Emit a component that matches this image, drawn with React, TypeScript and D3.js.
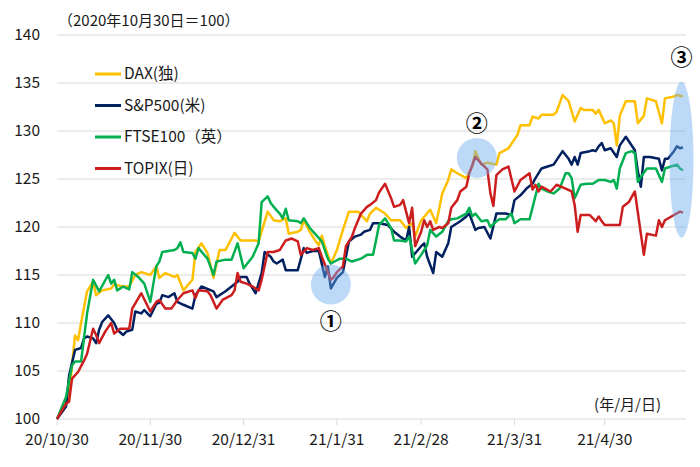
import React from 'react';
import * as d3 from 'd3';

// days counted from 2020/10/30 (index = 100)
const daxDays = [0, 2, 4, 6, 7, 8, 10, 12, 13, 15, 18, 19, 22, 24, 26, 28, 31, 33, 34, 36, 39, 40, 42, 45, 46, 48, 50, 52, 54, 56, 59, 61, 66, 67, 70, 72, 74, 76, 77, 80, 81, 82, 84, 86, 87, 88, 89, 91, 93, 95, 97, 100, 103, 104, 106, 109, 111, 114, 116, 118, 119, 121, 124, 126, 128, 130, 131, 133, 136, 138, 139, 141, 143, 146, 147, 150, 153, 154, 157, 158, 160, 161, 165, 166, 168, 170, 172, 174, 175, 178, 179, 180, 182, 184, 185, 186, 187, 189, 192, 193, 195, 196, 199, 201, 202, 205, 206, 208];
const daxValues = [100, 101.2, 102.5, 108.7, 108.2, 110, 113.3, 114.3, 112.9, 113.4, 113.6, 114, 113.8, 113.8, 115, 115.3, 115, 115.9, 114.7, 115.2, 114.8, 115, 113.4, 114.5, 117.4, 118.3, 117.3, 114.7, 117.6, 117.6, 119.4, 118.6, 118.6, 118.5, 121.6, 120.7, 120.6, 120.9, 119.3, 119.5, 119.7, 120.7, 119.5, 118.5, 118.1, 119.1, 118, 116.2, 117.6, 119.7, 121.6, 121.6, 120.6, 121.4, 122, 121.4, 120.7, 120.7, 119.9, 120.4, 119, 120.7, 121.8, 120.4, 123.5, 124.9, 126, 125.6, 125.1, 126.3, 127.9, 126.5, 126.7, 126.5, 127.7, 128.2, 129.6, 130.6, 130.6, 131.5, 131.3, 131.7, 131.7, 132, 133.75, 133.1, 131, 132.4, 132.2, 132.2, 131.8, 132.2, 130.8, 131.1, 130.8, 128.5, 131.6, 133.1, 133.1, 130.8, 131.6, 133.4, 133.1, 130.8, 133.4, 133.6, 133.75, 133.6];

const spDays = [0, 3, 4, 6, 8, 9, 10, 12, 13, 14, 15, 17, 19, 20, 22, 23, 25, 26, 28, 29, 31, 33, 34, 35, 37, 39, 40, 42, 45, 46, 48, 52, 53, 56, 58, 60, 61, 63, 64, 66, 68, 69, 71, 72, 73, 75, 76, 80, 82, 83, 85, 87, 89, 90, 91, 93, 95, 97, 99, 101, 102, 104, 105, 107, 110, 112, 114, 116, 117, 118, 121, 122, 123, 125, 126, 128, 130, 131, 134, 136, 137, 139, 140, 142, 144, 146, 149, 151, 152, 154, 156, 158, 159, 161, 163, 165, 168, 169, 170, 171, 172, 173, 174, 177, 178, 179, 180, 181, 182, 184, 186, 187, 189, 192, 193, 194, 195, 197, 200, 201, 202, 203, 205, 206, 207, 208];
const spValues = [100, 101.3, 104.5, 107.2, 107.4, 108.4, 108.6, 108.4, 107.9, 109.3, 110.1, 110.8, 110, 109.3, 108.75, 109.1, 109.3, 111.2, 111, 111.35, 110.7, 112, 112.1, 112.9, 112.7, 113.1, 112.2, 111.9, 111.5, 112.9, 113.8, 113.3, 112.7, 113.3, 113.8, 114.3, 114.8, 114.8, 114.1, 113.1, 115.2, 117.4, 116.9, 116.4, 116.2, 116.6, 115.5, 115.5, 117.8, 117.3, 117.5, 117.5, 114.8, 115.9, 113.6, 114.7, 115.3, 118.5, 119, 119.2, 119.5, 119.7, 120.4, 120.4, 120.2, 119.5, 119, 118.6, 120, 116.9, 118, 118.3, 116.9, 115.2, 117.4, 116.9, 118.3, 120, 120.6, 121.1, 121.4, 119.7, 119.9, 120, 118.8, 121.4, 121.4, 121.25, 122.8, 123.3, 124, 124.5, 125.1, 126.1, 126.3, 126.5, 127.9, 127.5, 127.1, 126.5, 127.3, 126.5, 127.7, 127.9, 128, 127.9, 128.4, 128.75, 128, 128.2, 127.3, 128.5, 129.4, 128, 125.8, 124.2, 127.3, 127.3, 127.1, 125.9, 127.1, 127.1, 127.9, 128.4, 128.2, 128.3];

const ftseDays = [0, 3, 5, 6, 8, 10, 12, 14, 17, 18, 19, 20, 22, 24, 25, 27, 29, 31, 33, 34, 35, 39, 40, 41, 42, 45, 46, 47, 50, 52, 53, 56, 58, 60, 62, 65, 67, 68, 70, 71, 72, 74, 75, 76, 77, 80, 81, 82, 84, 86, 88, 90, 91, 94, 96, 98, 101, 103, 105, 106, 107, 109, 111, 112, 114, 116, 117, 119, 121, 123, 124, 126, 128, 130, 131, 133, 136, 137, 138, 139, 141, 143, 144, 146, 147, 149, 151, 152, 154, 157, 160, 161, 163, 165, 167, 169, 170, 171, 172, 174, 176, 178, 179, 180, 182, 184, 185, 186, 187, 189, 191, 192, 193, 194, 196, 199, 201, 202, 204, 206, 207, 208];
const ftseValues = [100, 102.3, 105.6, 106, 106, 111, 114.5, 113.3, 115, 114.1, 114.5, 113.4, 113.8, 113.5, 115.3, 114.8, 114.1, 112.2, 115.9, 116.4, 117.4, 117.6, 117.8, 118.4, 117.4, 117.3, 116.7, 117.8, 116.7, 115, 116.4, 116.6, 116.6, 118.3, 115.7, 116.9, 118.3, 122.6, 123.2, 122.5, 122.1, 121.4, 120.9, 121.9, 120.7, 120.6, 120.4, 120.9, 119.9, 119.2, 118.5, 116.7, 116.2, 116.7, 116.7, 116.4, 116.7, 117.1, 117.1, 118.6, 120.2, 120.9, 119.9, 118.6, 118.6, 118.5, 119, 116.2, 117.1, 118.1, 119.7, 119, 119.5, 120.6, 120.8, 120.9, 121.4, 122, 121.1, 121.4, 120.6, 120.7, 120, 120.6, 120.8, 120.8, 121.4, 120.4, 120.8, 120.8, 124.5, 124, 123.7, 123.5, 124, 125.6, 125.6, 125.1, 123, 124.4, 124.5, 124.5, 124.7, 124.9, 124.9, 124.7, 124.9, 124, 126.1, 127.7, 127.9, 127.7, 124.7, 125.2, 126.1, 126.1, 124.7, 126.1, 126.3, 126.5, 126.1, 125.9];

const topixDays = [0, 3, 4, 5, 7, 9, 10, 12, 13, 14, 16, 18, 19, 21, 24, 25, 28, 31, 33, 34, 36, 38, 40, 42, 45, 46, 47, 50, 51, 53, 55, 58, 59, 60, 61, 63, 65, 67, 68, 70, 72, 74, 76, 78, 80, 81, 83, 85, 87, 88, 91, 92, 93, 95, 96, 98, 99, 101, 103, 104, 106, 107, 109, 111, 112, 114, 115, 116, 117, 118, 119, 121, 122, 123, 124, 125, 127, 128, 130, 131, 133, 134, 136, 137, 139, 141, 143, 144, 145, 146, 148, 150, 152, 154, 157, 158, 159, 160, 161, 164, 166, 169, 171, 172, 173, 174, 177, 179, 180, 181, 182, 187, 188, 190, 192, 195, 196, 199, 200, 201, 202, 205, 207, 208];
const topixValues = [100, 101.6, 101.8, 104.2, 104.9, 106.1, 106.8, 109.4, 108.75, 107.9, 109.1, 110, 108.9, 109.4, 109.4, 111.5, 113.1, 111.2, 112.2, 112.4, 111.5, 111.5, 112.4, 113.1, 113.4, 112.6, 113.4, 113.3, 112.9, 111.5, 112.4, 112.9, 113.4, 115.2, 114.3, 114.1, 113.8, 113.4, 114.5, 117.4, 117.4, 117.6, 118.6, 118.8, 118.5, 117.1, 117.8, 117.6, 117.8, 116.9, 114.5, 114.8, 115.3, 115.9, 118, 119, 119.9, 121.4, 122.1, 122.3, 122.8, 123.6, 124.5, 123, 122.1, 122.3, 122.8, 121.6, 120.4, 122, 118, 119.5, 120.7, 120, 120.6, 119.7, 120, 119.9, 120.4, 122, 122.8, 123.7, 124.2, 125.6, 127.3, 126.6, 126, 123.5, 122.2, 125.4, 126, 126.3, 123.7, 124.9, 125.6, 123.9, 124.4, 123.7, 124.2, 123.7, 124.4, 124, 123.7, 122.3, 119.5, 121.25, 121.25, 120.6, 121.1, 120.6, 120.2, 120.2, 122.1, 122.6, 123.7, 117.1, 119.3, 119.1, 120.7, 120, 120.7, 121.25, 121.6, 121.5];

const seriesNames = ['DAX(独)', 'S&P500(米)', 'FTSE100（英）', 'TOPIX(日)'];
const seriesColors = ['#ffc000', '#002060', '#00b050', '#cc1e1e'];
const seriesDays = [daxDays, spDays, ftseDays, topixDays];
const seriesValues = [daxValues, spValues, ftseValues, topixValues];

const yTicks = [100, 105, 110, 115, 120, 125, 130, 135, 140];
const xTickDays = [0, 31, 62, 93, 121, 152, 182];
const xTickLabels = ['20/10/30', '20/11/30', '20/12/31', '21/1/31', '21/2/28', '21/3/31', '21/4/30'];

// annotation marks: [day, value]
const markers = [
  { label: '①', day: 91, value: 114, rx: 20, ry: 20, labelValue: 110.2 },
  { label: '②', day: 139.5, value: 127.2, rx: 20, ry: 20, labelValue: 130.8 },
  { label: '③', day: 207.5, value: 127, rx: 12, ry: 78, labelValue: 137.7 },
];

const base = Date.UTC(2020, 9, 30);
const toDate = (d: number) => new Date(base + d * 86400000);

const W = 700;
const H = 467;
const FONT = "'Noto Sans CJK JP', 'Noto Sans', sans-serif";

export default function App() {
  const x = d3.scaleUtc().domain([toDate(0), toDate(208)]).range([57, 683]);
  const y = d3.scaleLinear().domain([100, 140]).range([419, 35]);
  const plotRight = 686;

  const line = d3
    .line<[number, number]>()
    .x((d) => x(toDate(d[0])))
    .y((d) => y(d[1]));

  return (
    <svg
      width={W}
      height={H}
      style={{ position: 'absolute', left: 0, top: 0, background: '#fff' }}
      fontFamily={FONT}
    >
      {yTicks.map((t) => (
        <g key={t}>
          <line x1={57} x2={plotRight} y1={y(t)} y2={y(t)} stroke="#d9d9d9" strokeWidth={1} />
          <text x={40} y={y(t)} dy="0.35em" textAnchor="end" fontSize={15.5} fill="#1a1a1a">
            {t}
          </text>
        </g>
      ))}

      {xTickDays.map((d, i) => (
        <g key={d}>
          <line x1={x(toDate(d))} x2={x(toDate(d))} y1={419} y2={425} stroke="#d9d9d9" />
          <text x={x(toDate(d))} y={445} textAnchor="middle" fontSize={15.5} fill="#1a1a1a">
            {xTickLabels[i]}
          </text>
        </g>
      ))}

      <text x={58} y={26} fontSize={15} fill="#1a1a1a">
        （2020年10月30日＝100）
      </text>
      <text x={661} y={410} textAnchor="end" fontSize={15} fill="#1a1a1a">
        (年/月/日)
      </text>

      {seriesNames.map((name, i) => {
        const pts = seriesDays[i].map((d, j) => [d, seriesValues[i][j]] as [number, number]);
        return (
          <path
            key={name}
            d={line(pts) ?? ''}
            fill="none"
            stroke={seriesColors[i]}
            strokeWidth={2.5}
            strokeLinejoin="round"
          />
        );
      })}

      {seriesNames.map((name, i) => {
        const ly = 74 + i * 31.5;
        return (
          <g key={name}>
            <line x1={95} x2={121} y1={ly} y2={ly} stroke={seriesColors[i]} strokeWidth={3} />
            <text x={124} y={ly} dy="0.35em" fontSize={15.5} fill="#1a1a1a">
              {name}
            </text>
          </g>
        );
      })}

      {markers.map((m) => (
        <g key={m.label}>
          <ellipse
            cx={x(toDate(m.day))}
            cy={y(m.value)}
            rx={m.rx}
            ry={m.ry}
            fill="#6aaef0"
            fillOpacity={0.45}
          />
          <text
            x={x(toDate(m.day))}
            y={y(m.labelValue)}
            dy="0.36em"
            textAnchor="middle"
            fontSize={22}
            fontWeight={700}
            fill="#000"
          >
            {m.label}
          </text>
        </g>
      ))}
    </svg>
  );
}
